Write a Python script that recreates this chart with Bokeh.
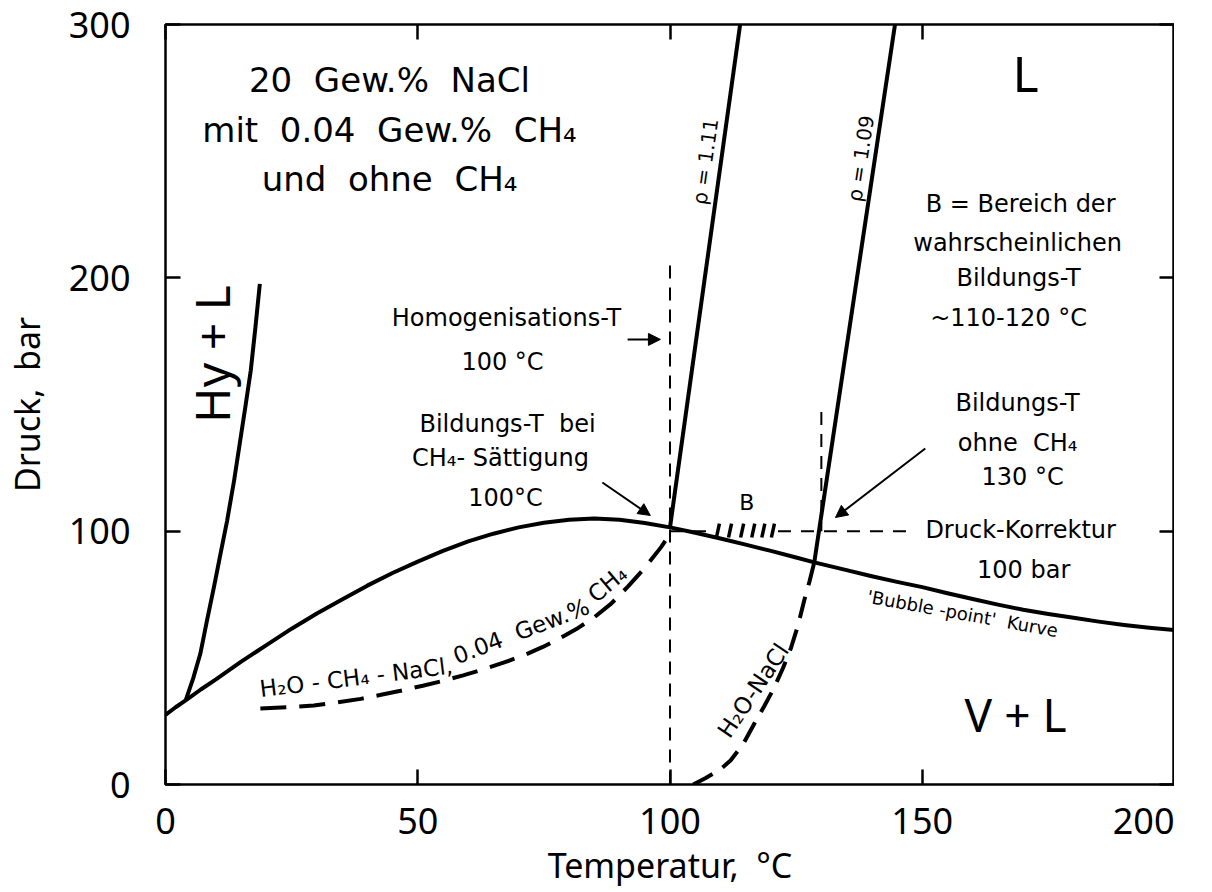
from bokeh.plotting import figure
from bokeh.models import Range1d, LinearAxis, FixedTicker, Arrow, NormalHead, ColumnDataSource
from bokeh.core.properties import value
from bokeh.embed import file_html
from bokeh.resources import INLINE

FONT = "Noto Sans"
TFONT = "DejaVu Sans"
S2 = "\u00a0\u00a0"

# ---- axis ticks ----
x_ticks = [0, 50, 100, 150, 200]
y_ticks = [0, 100, 200, 300]

# ---- curves (Temperatur °C, Druck bar) ----
bubble_T = [0, 2, 4, 7, 10, 15, 20, 25, 30, 35, 40, 45, 50, 55, 60, 65, 70, 75, 80, 85, 90, 95, 100,
            105, 110, 115, 120, 125, 128.6, 135, 140, 145, 150, 155, 160, 165, 170, 175, 180, 185, 190, 195, 200]
bubble_P = [27.5, 30.5, 33.2, 37.5, 41.5, 48.5, 55, 61.5, 67.5, 73, 78.5, 83.5, 88, 92.2, 96, 99, 101.5, 103.3,
            104.5, 105, 104.5, 103.2, 101.5, 99.4, 97.1, 94.7, 92.2, 89.6, 87.7, 84.6, 82.2, 80, 77.9, 75.5,
            73.2, 71, 69, 67.3, 65.8, 64.3, 63, 61.9, 61]

hy_T = [4.0, 5.5, 6.9, 8.2, 9.6, 10.9, 12.2, 13.6, 14.9, 15.9, 16.9, 17.8, 18.7]
hy_P = [33.2, 42, 51.6, 64.5, 77.9, 91, 104, 120, 137, 150, 163.4, 180, 197.6]

rho111_T = [100, 113.9]
rho111_P = [101.5, 300]
rho109_T = [128.6, 144.6]
rho109_P = [87.7, 300]

ch4_T = [18.8, 24, 29.4, 34, 38.7, 42.5, 46.6, 51, 55.2, 59, 63.1, 67, 71, 74.8, 78.4, 81.8, 85, 88.4, 91.6, 95, 98.2, 100]
ch4_P = [30, 30.5, 31.2, 32.4, 33.8, 35.3, 37, 39, 41, 43.1, 45.5, 48.1, 51, 54.3, 58, 61.8, 66, 71.5, 78, 85.5, 93.6, 99]

nacl_T = [104.6, 107, 110, 112, 114.5, 116.7, 118.7, 120.6, 122.4, 124, 125.4, 126.6, 127.7, 128.6]
nacl_P = [0, 2.5, 6, 9.5, 16, 24, 31, 38, 46, 54, 63, 72.6, 80.5, 87.7]

homog_T = [100, 100]
homog_P = [0, 207]
ohne_T = [130, 130]
ohne_P = [147, 100]
korr_T = [[100, 108.6], [121.4, 147.4]]
korr_P = [[100, 100], [100, 100]]

hatch_T = [109.5, 111.9, 114.3, 116.5, 118.5, 120.4]
hatch_P0 = [97.5] * 6
hatch_P1 = [103] * 6

# ---- arrows ----
arrow_x0 = [91.6, 86.6, 150.6]
arrow_y0 = [175.7, 119.2, 132.6]
arrow_x1 = [98.1, 96.1, 132.8]
arrow_y1 = [175.7, 106.2, 105.4]

# ---- annotation texts ----
lab_x = [44.4, 44.4, 44.4, 170.5, 168.5, 9.1,
         67.6, 66.8, 67.8, 66.4, 67.4,
         169.5, 168.9, 169.1, 167.1, 168.9, 168.9, 169.9, 169.5, 170.1,
         115.2, 158.0, 107.0, 137.8, 116.5, 37.8, 70.5, 87.6]
lab_y = [277.9, 258.2, 239.2, 281, 28, 169.9,
         184, 166.6, 142.5, 128.7, 112.9,
         229.3, 213.9, 200.1, 184.3, 150.4, 135, 121.2, 100.3, 84.5,
         111.3, 67.5, 245.9, 247.1, 37.1, 42.3, 60.5, 79.2]
lab_text = ["20" + S2 + "Gew.%" + S2 + "NaCl", "mit" + S2 + "0.04" + S2 + "Gew.%" + S2 + "CH\u2084",
            "und" + S2 + "ohne" + S2 + "CH\u2084", "L", "V + L", "Hy + L",
            "Homogenisations-T", "100 \u00b0C", "Bildungs-T" + S2 + "bei", "CH\u2084- S\u00e4ttigung", "100\u00b0C",
            "B = Bereich der", "wahrscheinlichen", "Bildungs-T", "~110-120 \u00b0C", "Bildungs-T",
            "ohne" + S2 + "CH\u2084", "130 \u00b0C", "Druck-Korrektur", "100 bar",
            "B", "'Bubble -point'" + S2 + "Kurve", "\u03c1 = 1.11", "\u03c1 = 1.09", "H\u2082O-NaCl",
            "H\u2082O - CH\u2084 - NaCl,", "0.04" + S2 + "Gew.%", "CH\u2084"]
lab_size = ["34px", "34px", "34px", "50px", "46px", "48px",
            "24px", "24px", "24px", "24px", "24px",
            "24px", "24px", "24px", "24px", "24px", "24px", "24px", "24px", "24px",
            "22px", "18px", "20px", "20px", "23px", "23px", "23px", "23px"]
lab_font = [TFONT, TFONT, TFONT, FONT, FONT, FONT] + [TFONT] * 22
lab_angle = [0, 0, 0, 0, 0, 90,
             0, 0, 0, 0, 0,
             0, 0, 0, 0, 0, 0, 0, 0, 0,
             0, -10.3, 82, 81.4, 56, 7, 21, 40]

p = figure(frame_width=1009, frame_height=760, x_range=Range1d(0, 200), y_range=Range1d(0, 300),
           output_backend="svg", toolbar_location=None, title=None,
           min_border_left=157, min_border_right=0, min_border_top=24, min_border_bottom=0)
p.grid.visible = False
p.background_fill_color = "white"
p.border_fill_color = "white"
p.outline_line_color = "black"
p.outline_line_width = 2.5

def style_axis(ax, labels=True):
    ax.axis_line_color = None
    ax.major_tick_in = 15
    ax.major_tick_out = 0
    ax.minor_tick_line_color = None
    ax.major_tick_line_width = 2.5
    ax.major_tick_line_color = "black"
    ax.major_label_text_font = FONT
    ax.major_label_text_color = "black"
    ax.major_label_text_font_size = "36px"
    if not labels:
        ax.major_label_overrides = {t: "" for t in ax.ticker.ticks}
        ax.major_label_text_font_size = "10px"
        ax.major_label_standoff = 0
        ax.axis_label_standoff = 0

xb = p.below[0]
yl = p.left[0]
xb.ticker = FixedTicker(ticks=x_ticks)
yl.ticker = FixedTicker(ticks=y_ticks)
style_axis(xb)
style_axis(yl)
xb.major_label_standoff = 23
yl.major_label_standoff = 35
xb.axis_label = "Temperatur,\u00a0\u00a0\u00b0C"
yl.axis_label = "Druck,\u00a0\u00a0bar"
for ax in (xb, yl):
    ax.axis_label_text_font = FONT
    ax.axis_label_text_font_size = "34px"
    ax.axis_label_text_font_style = "normal"
    ax.axis_label_text_color = "black"
xb.axis_label_standoff = 5
yl.axis_label_standoff = 16

xt = LinearAxis(ticker=FixedTicker(ticks=x_ticks))
yr = LinearAxis(ticker=FixedTicker(ticks=y_ticks))
style_axis(xt, labels=False)
style_axis(yr, labels=False)
p.add_layout(xt, "above")
p.add_layout(yr, "right")

# ---- lines ----
p.line(bubble_T, bubble_P, line_width=4, line_color="black", line_join="round")
p.line(hy_T, hy_P, line_width=4, line_color="black", line_join="round")
p.line(rho111_T, rho111_P, line_width=4, line_color="black")
p.line(rho109_T, rho109_P, line_width=4, line_color="black")
p.line(ch4_T, ch4_P, line_width=4, line_color="black", line_dash="26 13")
p.line(nacl_T, nacl_P, line_width=4, line_color="black", line_dash="22 12")
p.line(homog_T, homog_P, line_width=2, line_color="black", line_dash="13 9")
p.line(ohne_T, ohne_P, line_width=2, line_color="black", line_dash="13 9")
p.multi_line(korr_T, korr_P, line_width=2, line_color="black", line_dash="13 10")
p.segment(x0=[t - 0.3 for t in hatch_T], y0=hatch_P0, x1=[t + 0.3 for t in hatch_T], y1=hatch_P1,
          line_width=3.5, line_color="black")

# ---- arrows ----
arr = ColumnDataSource(dict(x0=arrow_x0, y0=arrow_y0, x1=arrow_x1, y1=arrow_y1))
p.add_layout(Arrow(end=NormalHead(size=12, fill_color="black", line_color="black"),
                   x_start="x0", y_start="y0", x_end="x1", y_end="y1",
                   source=arr, line_width=2, line_color="black"))

# ---- texts (grouped by font and size) ----
for key in sorted(set(zip(lab_font, lab_size))):
    fnt, sz = key
    idx = [i for i in range(len(lab_text)) if (lab_font[i], lab_size[i]) == key]
    src = ColumnDataSource(dict(x=[lab_x[i] for i in idx], y=[lab_y[i] for i in idx],
                                text=[lab_text[i] for i in idx], angle=[lab_angle[i] for i in idx]))
    p.text(x="x", y="y", text="text", source=src, text_font=value(fnt), text_font_size=value(sz),
           angle="angle", angle_units="deg", text_align="center", text_baseline="middle",
           text_color="black")

open("out.html", "w").write(file_html(p, INLINE))
